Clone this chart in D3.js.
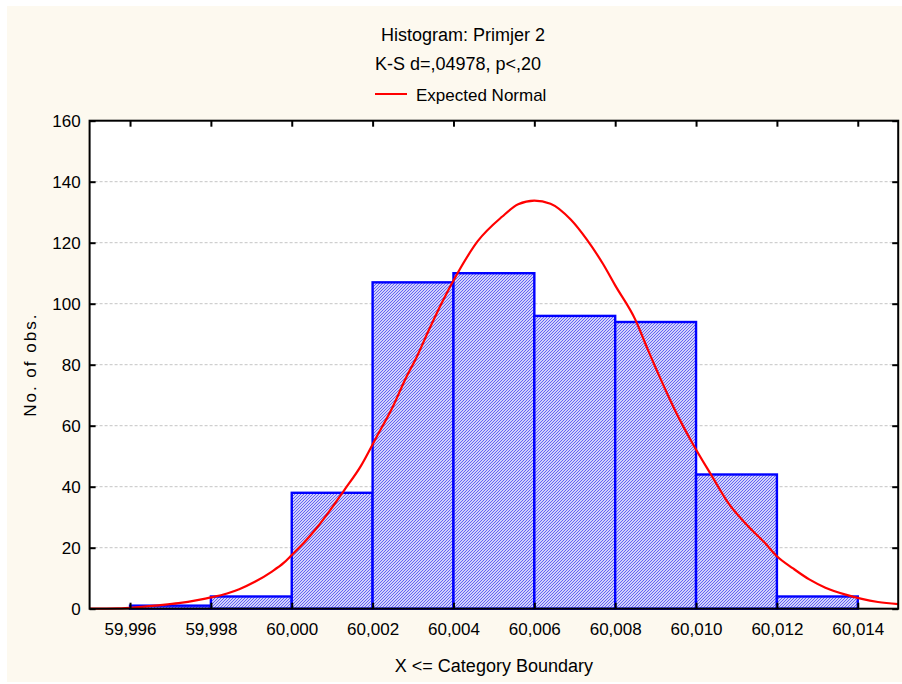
<!DOCTYPE html>
<html><head><meta charset="utf-8">
<script src="https://cdn.jsdelivr.net/npm/d3@7"></script>
<style>html,body{margin:0;padding:0;background:#fff;} svg{display:block;font-family:"Liberation Sans",Arial,sans-serif;}</style>
</head><body>
<script>
// ---- data ----
const binEdges = [59.996, 59.998, 60.000, 60.002, 60.004, 60.006, 60.008, 60.010, 60.012, 60.014];
const counts = [1, 4, 38, 107, 110, 96, 94, 44, 4];
const xTickValues = [59.996, 59.998, 60.000, 60.002, 60.004, 60.006, 60.008, 60.010, 60.012, 60.014];
const xTickLabels = ["59,996","59,998","60,000","60,002","60,004","60,006","60,008","60,010","60,012","60,014"];
const yTickValues = [0, 20, 40, 60, 80, 100, 120, 140, 160];
const yTickLabels = ["0","20","40","60","80","100","120","140","160"];
// expected normal curve
const curveX = [59.9950,59.9957,59.9962,59.9967,59.9972,59.9977,59.9980,59.9984,59.9987,59.9991,59.9995,59.9998,
  60.0000,60.0003,60.0006,60.0010,60.0013,60.0017,60.0021,60.0025,60.0028,60.0031,60.0034,60.0037,60.0041,
  60.0046,60.0052,60.0056,60.0060,60.0064,60.0069,60.0073,60.0077,60.0080,60.0085,60.0088,60.0091,60.0095,
  60.0099,60.0104,60.0108,60.0113,60.0117,60.0120,60.0124,60.0128,60.0132,60.0137,60.0141,60.0145,60.0150];
const curveY = [0,0.1,0.5,1.1,1.8,2.9,3.7,5.0,6.4,8.9,12.1,15.0,
  17.6,21.6,26.2,33.2,38.9,46.6,56.4,66.2,75.0,82.8,91.6,100,110,
  120.5,128.5,132.6,133.8,132.8,127.6,121,113,106,94.7,85.2,76,64.5,
  54.5,43.3,34.6,26.9,21.6,17.2,13.2,9.6,6.9,4.6,3.2,2.2,1.5];
const titleLines = ["Histogram: Primjer 2", "K-S d=,04978, p<,20"];
const legendLabel = "Expected Normal";
const xAxisTitle = "X <= Category Boundary";
const yAxisTitle = "No. of obs.";

// ---- layout ----
const W = 902, H = 684;
const L = 89.6, R = 898.2, T = 120.7, B = 608.7;
const svg = d3.select("body").append("svg").attr("width", W).attr("height", H);

svg.append("rect").attr("x", 7).attr("y", 6).attr("width", W - 7).attr("height", 676).attr("fill", "#fdf9ef");

const defs = svg.append("defs");
const pat = defs.append("pattern").attr("id", "hatch").attr("patternUnits", "userSpaceOnUse")
  .attr("width", 3).attr("height", 3);
pat.append("rect").attr("width", 3).attr("height", 3).attr("fill", "#ffffff");
pat.append("path").attr("d", "M0,3 L3,0 M-1,1 L1,-1 M2,4 L4,2")
  .attr("stroke", "#5a5af2").attr("stroke-width", 1.05);

const x = d3.scaleLinear().domain([59.995, 60.015]).range([L, R]);
const y = d3.scaleLinear().domain([0, 160]).range([B, T]);

// plot background
svg.append("rect").attr("x", L).attr("y", T).attr("width", R - L).attr("height", B - T).attr("fill", "#fff");

// gridlines
svg.append("g").selectAll("line").data(yTickValues.filter(v => v > 0 && v < 160)).join("line")
  .attr("x1", L).attr("x2", R).attr("y1", d => y(d)).attr("y2", d => y(d))
  .attr("stroke", "#c4c4c4").attr("stroke-width", 1).attr("stroke-dasharray", "3,2");

// bars
const bins = counts.map((c, i) => ({x0: binEdges[i], x1: binEdges[i + 1], c}));
svg.append("g").selectAll("rect").data(bins).join("rect")
  .attr("x", d => x(d.x0)).attr("width", d => x(d.x1) - x(d.x0))
  .attr("y", d => y(d.c)).attr("height", d => y(0) - y(d.c))
  .attr("fill", "url(#hatch)").attr("stroke", "#0000ff").attr("stroke-width", 2.4);

// curve
const pts = curveX.map((v, i) => [v, curveY[i]]);
svg.append("path").datum(pts)
  .attr("d", d3.line().x(d => x(d[0])).y(d => y(d[1])).curve(d3.curveMonotoneX))
  .attr("fill", "none").attr("stroke", "#ff0000").attr("stroke-width", 2.2);

// frame
svg.append("rect").attr("x", L).attr("y", T).attr("width", R - L).attr("height", B - T)
  .attr("fill", "none").attr("stroke", "#000").attr("stroke-width", 2);

// axes with inward ticks
const fmtX = (d) => xTickLabels[xTickValues.indexOf(d)];
const fmtY = (d) => yTickLabels[yTickValues.indexOf(d)];
const gx = svg.append("g").attr("transform", `translate(0,${B})`)
  .call(d3.axisBottom(x).tickValues(xTickValues).tickFormat(fmtX).tickSizeInner(-6).tickSizeOuter(0).tickPadding(14));
const gxTop = svg.append("g").attr("transform", `translate(0,${T})`)
  .call(d3.axisTop(x).tickValues(xTickValues).tickFormat("").tickSizeInner(-6).tickSizeOuter(0));
const gy = svg.append("g").attr("transform", `translate(${L},0)`)
  .call(d3.axisLeft(y).tickValues(yTickValues).tickFormat(fmtY).tickSizeInner(-6).tickSizeOuter(0).tickPadding(9));
const gyR = svg.append("g").attr("transform", `translate(${R},0)`)
  .call(d3.axisRight(y).tickValues(yTickValues).tickFormat("").tickSizeInner(-6).tickSizeOuter(0));
[gx, gxTop, gy, gyR].forEach(g => {
  g.select(".domain").remove();
  g.selectAll(".tick line").attr("stroke", "#000").attr("stroke-width", 2);
  g.selectAll("text").attr("font-family", "'Liberation Sans', Arial, sans-serif").attr("font-size", 17).attr("fill", "#000");
});
gx.selectAll("text").attr("dy", "0.71em");
gy.selectAll("text").attr("dy", "0.36em");

// titles
svg.append("text").attr("x", 463).attr("y", 41).attr("text-anchor", "middle").attr("font-size", 18)
  .text(titleLines[0]);
svg.append("text").attr("x", 458).attr("y", 70).attr("text-anchor", "middle").attr("font-size", 18)
  .text(titleLines[1]);
svg.append("line").attr("x1", 375).attr("x2", 407).attr("y1", 94).attr("y2", 94)
  .attr("stroke", "#ff0000").attr("stroke-width", 2);
svg.append("text").attr("x", 416).attr("y", 101).attr("font-size", 17).text(legendLabel);

svg.append("text").attr("x", (L + R) / 2).attr("y", 672).attr("text-anchor", "middle").attr("font-size", 18)
  .text(xAxisTitle);
svg.append("text").attr("transform", `translate(36,${(T + B) / 2}) rotate(-90)`).attr("text-anchor", "middle")
  .attr("font-size", 17).attr("letter-spacing", "2").text(yAxisTitle);
</script>
</body></html>
